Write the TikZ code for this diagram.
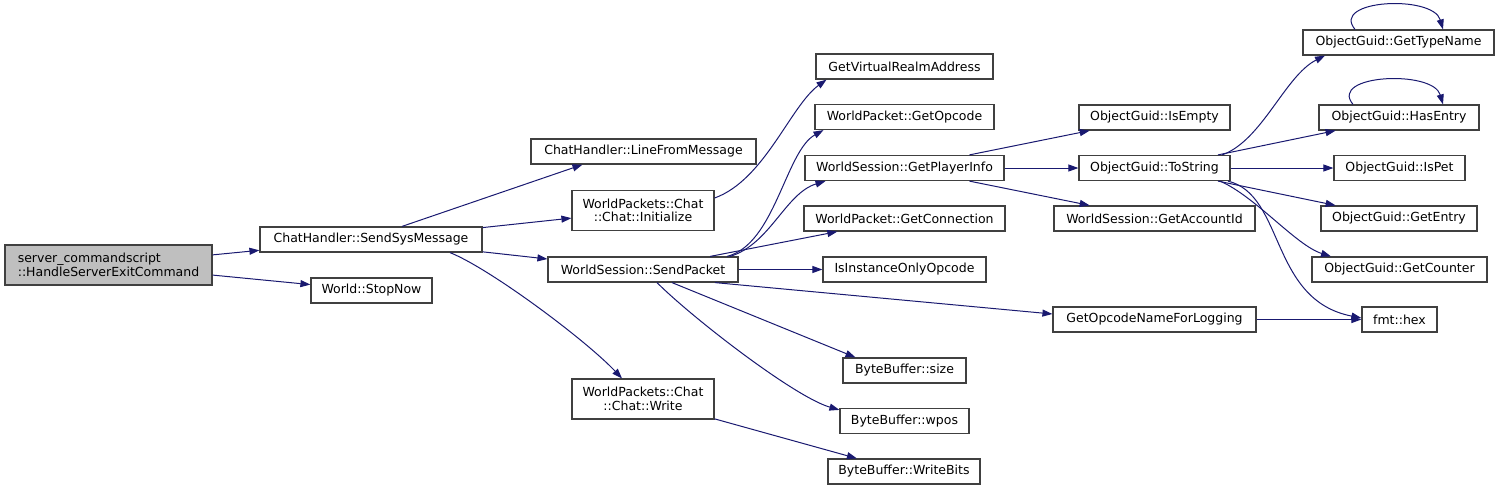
\documentclass[tikz,border=0pt]{standalone}
\usepackage{fontspec}
\setmainfont{DejaVu Sans}
\usepackage{xcolor}
\usepackage{tikz}
\usetikzlibrary{arrows.meta}
\definecolor{callcol}{HTML}{191970}
\definecolor{boxline}{HTML}{404040}
\definecolor{rootfill}{HTML}{BFBFBF}
\begin{document}
\begin{tikzpicture}[x=1pt,y=-1pt,font=\fontsize{12.5}{13.5}\selectfont]
\tikzstyle{every node}+=[inner sep=0pt]
\tikzstyle{fn}=[draw=boxline,line width=1.2pt,minimum height=25pt,fill=white]
\tikzstyle{call}=[draw=callcol,line width=1pt,-{Triangle[length=10pt,width=7pt]},callcol]
\useasboundingbox (0,0) rectangle (1500,491);
\draw (108.5,265) node [fn,fill=rootfill,minimum width=207pt,minimum height=40pt,align=left] (hsec) {server\_commandscript\\::HandleServerExitCommand};
\draw (371,239.5) node [fn,minimum width=222pt] (ssm) {ChatHandler::SendSysMessage};
\draw (371.5,290.5) node [fn,minimum width=121pt] (stop) {World::StopNow};
\draw (643.5,151.5) node [fn,minimum width=225pt] (lfm) {ChatHandler::LineFromMessage};
\draw (643,210.5) node [fn,minimum width=142pt,minimum height=40pt,align=center] (init) {WorldPackets::Chat\\::Chat::Initialize};
\draw (643,269.5) node [fn,minimum width=190pt] (sp) {WorldSession::SendPacket};
\draw (643,399) node [fn,minimum width=142pt,minimum height=40pt,align=center] (write) {WorldPackets::Chat\\::Chat::Write};
\draw (904.5,66.5) node [fn,minimum width=177pt] (gvra) {GetVirtualRealmAddress};
\draw (904.5,117) node [fn,minimum width=179pt] (gop) {WorldPacket::GetOpcode};
\draw (904.5,168) node [fn,minimum width=199pt] (gpi) {WorldSession::GetPlayerInfo};
\draw (904.5,218.5) node [fn,minimum width=201pt] (gcon) {WorldPacket::GetConnection};
\draw (904.5,269.5) node [fn,minimum width=163pt] (iio) {IsInstanceOnlyOpcode};
\draw (904.5,370.5) node [fn,minimum width=123pt] (bsize) {ByteBuffer::size};
\draw (904.5,421) node [fn,minimum width=129pt] (wpos) {ByteBuffer::wpos};
\draw (904,471.5) node [fn,minimum width=152pt] (wbits) {ByteBuffer::WriteBits};
\draw (1154.5,117.5) node [fn,minimum width=151pt] (ie) {ObjectGuid::IsEmpty};
\draw (1154.5,168) node [fn,minimum width=151pt] (ts) {ObjectGuid::ToString};
\draw (1154.5,218.5) node [fn,minimum width=201pt] (gaid) {WorldSession::GetAccountId};
\draw (1154.5,319.5) node [fn,minimum width=203pt] (gonl) {GetOpcodeNameForLogging};
\draw (1398.5,42.5) node [fn,minimum width=191pt] (gtn) {ObjectGuid::GetTypeName};
\draw (1399,117.5) node [fn,minimum width=160pt] (he) {ObjectGuid::HasEntry};
\draw (1399.5,168) node [fn,minimum width=131pt] (ip) {ObjectGuid::IsPet};
\draw (1399,218.5) node [fn,minimum width=156pt] (ge) {ObjectGuid::GetEntry};
\draw (1399.5,269.5) node [fn,minimum width=175pt] (gc) {ObjectGuid::GetCounter};
\draw (1399.5,319.5) node [fn,minimum width=75pt] (hex) {fmt::hex};
\draw [call] (hsec) -- (ssm);
\draw [call] (hsec) -- (stop);
\draw [call] ([xshift=31pt]ssm.north) -- ([xshift=-61pt]lfm.south);
\draw [call] (ssm) -- (init);
\draw [call] (ssm) -- (sp);
\draw [call] ([xshift=79pt]ssm.south) .. controls +(40,16) and +(-37,-39) .. ([xshift=-21pt]write.north);
\draw [call] ([yshift=12.5pt]init.east) .. controls +(50,-18) and +(-36,26) .. ([xshift=-78pt]gvra.south);
\draw [call] ([xshift=84pt]sp.north) .. controls +(48,-12) and +(-38,21) .. ([xshift=-81pt]gop.south);
\draw [call] ([xshift=87pt]sp.north) .. controls +(40,-12) and +(-40,12) .. ([xshift=-79pt]gpi.south);
\draw [call] (sp) -- (gcon);
\draw [call] (sp) -- (iio);
\draw [call] ([xshift=72pt]sp.south) -- ([yshift=5.5pt]gonl.west);
\draw [call] ([xshift=29pt]sp.south) -- ([xshift=-49pt]bsize.north);
\draw [call] ([xshift=14pt]sp.south) .. controls +(35,35) and +(-45,-13) .. ([yshift=-2pt]wpos.north west);
\draw [call] (write) -- (wbits);
\draw [call] (gpi) -- (ie);
\draw [call] (gpi) -- (ts);
\draw [call] (gpi) -- (gaid);
\draw [call] ([xshift=67.5pt]ts.north) .. controls +(40,-14) and +(-40,20) .. ([xshift=-73.5pt]gtn.south);
\draw [call] (ts) -- (he);
\draw [call] (ts) -- (ip);
\draw [call] (ts) -- (ge);
\draw [call] ([xshift=65.5pt]ts.south) .. controls +(35,15) and +(-35,-11) .. ([xshift=-68.5pt]gc.north);
\draw [call] ([xshift=73.5pt]ts.south) .. controls +(57,14) and +(-92,-18) .. ([yshift=1.5pt]hex.west);
\draw [call] (gonl) -- (hex);
\draw [call] ([xshift=-43.5pt]gtn.north) .. controls +(-25,-30) and +(-10,-35) .. ([xshift=44.5pt]gtn.north);
\draw [call] ([xshift=-46pt]he.north) .. controls +(-25,-30) and +(-10,-35) .. ([xshift=44pt]he.north);
\end{tikzpicture}
\end{document}
